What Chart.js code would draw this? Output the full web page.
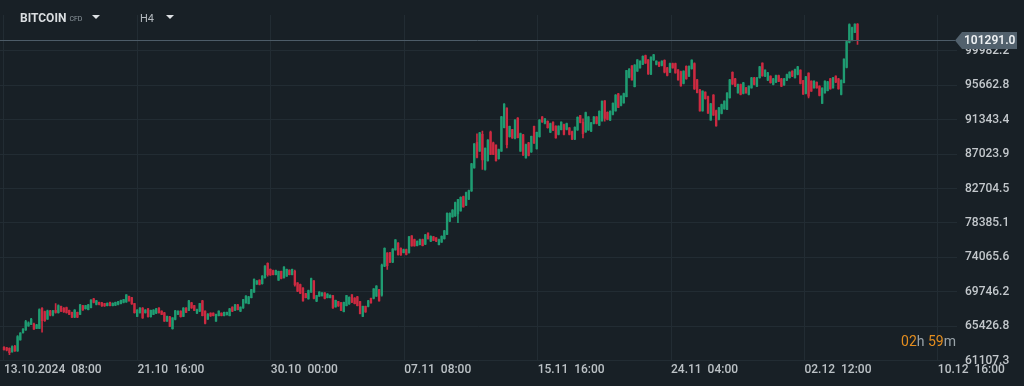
<!DOCTYPE html>
<html lang="en">
<head>
    <meta charset="UTF-8">
    <title>BITCOIN CFD H4</title>
    <script src="https://cdn.jsdelivr.net/npm/chart.js"></script>
    <style>
        body {
            margin: 0;
            background: #182026;
            font-family: Roboto, Arial, sans-serif;
        }
        #wrap {
            position: relative;
            width: 1024px;
            height: 386px;
        }
        .hdr {
            position: absolute;
            top: 11px;
            color: #d9dde0;
            white-space: nowrap;
        }
        #sym { left: 20px; font-size: 12px; font-weight: 700; }
        #sym small { font-size: 7px; font-weight: 400; color: #8e989f; margin-left: 3px; vertical-align: 1px; }
        #tf { left: 140px; font-size: 11px; color: #b4babf; top: 12px; }
        .caret { position: absolute; top: 15px; width: 0; height: 0;
                 border-left: 4px solid transparent; border-right: 4px solid transparent; border-top: 4px solid #dde1e4; }
        #countdown {
            position: absolute;
            right: 68px;
            top: 333px;
            font-size: 14px;
            color: #9aa3a9;
        }
        #countdown b { color: #e38d1f; font-weight: 400; }
    </style>
</head>
<body>
<div id="wrap">
    <canvas id="candles" width="1024" height="386"></canvas>
    <div class="hdr" id="sym">BITCOIN<small>CFD</small></div>
    <div class="caret" style="left:92px"></div>
    <div class="hdr" id="tf">H4</div>
    <div class="caret" style="left:166px"></div>
    <div id="countdown"><b>02</b>h <b>59</b>m</div>
</div>

<script>
    // H4 candles, 13.10.2024 08:00 onwards
    const open = [
        62770, 62690, 62650, 62200, 62880, 62300, 63700, 64600, 64950, 65450, 65650, 65700, 65150, 65150, 67650, 67250, 66300, 67350, 66800, 67400,
        67100, 67900, 67700, 67750, 67400, 67150, 66550, 67150, 66900, 68000, 67600, 67500, 67750, 68850, 68150, 68400, 68350, 68250, 68000, 68400,
        68000, 68050, 68150, 68250, 68400, 68450, 69150, 69000, 68250, 66650, 67100, 67700, 67100, 67600, 66600, 66900, 67050, 67700, 67300, 67100,
        66050, 66600, 65100, 66250, 66900, 67300, 66650, 67700, 67400, 68350, 68000, 67050, 67300, 68600, 67300, 66300, 67050, 67050, 66050, 66750,
        67050, 66750, 66850, 66750, 67800, 67400, 68100, 67300, 67700, 68350, 68250, 69000, 69700, 70700, 71200, 70750, 71500, 73300, 72550, 72400,
        71900, 71200, 72300, 71500, 71700, 72450, 71900, 72300, 70850, 70650, 70200, 69500, 68850, 69700, 71100, 68550, 69200, 69250, 69600, 69000,
        69000, 69250, 67850, 68500, 68350, 67250, 68000, 68200, 69350, 68950, 69100, 68500, 66650, 67900, 67900, 68900, 68900, 69200, 70000, 69300,
        72950, 74600, 74650, 73450, 75000, 75850, 75200, 74660, 75050, 74650, 76750, 76300, 75540, 75660, 76300, 75700, 77100, 76080, 76640, 76500,
        75660, 75970, 76400, 76950, 78600, 79150, 79250, 79500, 79900, 81700, 80600, 81350, 82400, 85300, 88500, 87400, 89500, 85100, 86200, 89800,
        88450, 88150, 86440, 87400, 90350, 92800, 89200, 90100, 89000, 91550, 87400, 89450, 86560, 88440, 87300, 90500, 87700, 89200, 91700, 90870,
        91150, 89770, 91030, 90530, 89480, 90100, 90740, 90120, 90320, 89850, 88900, 90050, 91850, 91000, 89800, 90050, 89900, 90870, 91700, 90650,
        91200, 93700, 92280, 91280, 92000, 92450, 94600, 93130, 93460, 94250, 96650, 98100, 95500, 97450, 97860, 98300, 99400, 98850, 97050, 98850,
        98280, 98560, 98150, 98800, 97860, 97300, 98400, 98400, 97600, 97400, 95890, 98060, 96800, 97740, 98400, 96350, 95100, 92450, 94800, 94250,
        91300, 94450, 92500, 91370, 92120, 92710, 92650, 94100, 97300, 96480, 94720, 95760, 94630, 95350, 94510, 95350, 96610, 95550, 96610, 98450,
        96810, 96300, 96810, 95760, 96050, 96890, 96480, 95700, 96300, 96610, 97440, 96610, 97020, 97560, 96250, 94630, 97200, 96180, 95350, 96050,
        95550, 93400, 94720, 95000, 96480, 95350, 96810, 96480, 94510, 96000, 97900, 101050, 101300, 102300, 103350
    ];
    const high = [
        62850, 62750, 62700, 62950, 63000, 64250, 64600, 65100, 66150, 65950, 66400, 65800, 65650, 67600, 67750, 67300, 67450, 67400, 67400, 68250,
        68100, 67950, 67750, 67800, 67450, 67200, 67500, 67200, 68150, 68050, 68050, 68150, 68760, 68900, 68650, 68450, 68400, 68300, 68350, 68450,
        68350, 68450, 68550, 68700, 68800, 69400, 69200, 69050, 68300, 67500, 67750, 67750, 67500, 67650, 67450, 67500, 67650, 67750, 67350, 67150,
        66700, 66650, 66500, 67400, 67350, 67350, 67750, 67750, 68650, 68400, 68050, 67550, 68300, 68650, 67350, 67000, 67100, 67100, 66950, 67350,
        67100, 67200, 67200, 67650, 67850, 68150, 68150, 67850, 68800, 69250, 69150, 70050, 71350, 71150, 71250, 71780, 73030, 73370, 72610, 72450,
        72450, 72350, 72350, 72900, 72600, 72500, 72600, 72450, 70900, 70700, 70250, 69550, 69950, 71450, 71150, 69300, 69750, 69650, 69650, 69500,
        69350, 69300, 68700, 68550, 68400, 68450, 69300, 69100, 69400, 69000, 69150, 68550, 67950, 67950, 68650, 68950, 70150, 70500, 70050, 73200,
        75250, 74650, 74700, 75150, 76300, 75900, 75250, 75100, 75100, 76710, 76800, 76350, 76130, 76350, 76350, 76950, 77150, 76750, 76700, 76550,
        76350, 76760, 77450, 79650, 79650, 80060, 81000, 81350, 81660, 81750, 82250, 82500, 85850, 88350, 89570, 89770, 89900, 87810, 88860, 89900,
        88520, 88200, 87650, 91780, 93380, 92850, 90550, 90150, 91370, 91600, 89650, 89500, 88280, 88500, 89300, 90550, 89800, 91370, 91750, 91500,
        91200, 90920, 91080, 90580, 90580, 91080, 90790, 90920, 90370, 89900, 90450, 91710, 91900, 91460, 92300, 91750, 91000, 91750, 91750, 92450,
        93700, 93750, 92330, 92460, 93460, 94510, 94650, 94350, 94680, 97550, 97750, 98150, 98280, 98900, 98740, 99350, 99450, 98900, 99250, 99550,
        98740, 98610, 98740, 98850, 97910, 98450, 98450, 98450, 97650, 97450, 97490, 98110, 98110, 98870, 98490, 96400, 95150, 94980, 94850, 94300,
        93400, 94510, 92550, 92890, 93300, 93720, 94750, 96400, 97350, 96530, 95810, 95810, 96030, 95400, 95600, 96660, 96660, 96660, 98040, 98490,
        97610, 97280, 96860, 96530, 96940, 96940, 96530, 96530, 97070, 97360, 97490, 97700, 98040, 97610, 96300, 96780, 97230, 96230, 96230, 96100,
        95600, 95350, 96230, 96150, 96530, 96660, 96860, 96530, 96350, 98990, 101200, 103390, 102960, 103390, 103400
    ];
    const low = [
        62400, 62300, 61850, 62150, 62250, 62250, 63650, 64550, 64900, 65400, 65600, 65000, 65100, 65100, 64650, 66000, 66250, 66700, 66700, 67050,
        67050, 67250, 67150, 67050, 66850, 66500, 66500, 66500, 66850, 67400, 67550, 67450, 67700, 68350, 68100, 68100, 67900, 67900, 67950, 67950,
        67950, 68000, 68100, 68200, 68350, 68400, 68550, 68150, 67050, 66600, 67050, 66400, 67050, 66550, 66550, 66850, 67000, 67050, 66850, 66000,
        66000, 65350, 65050, 66200, 66850, 66550, 66600, 67100, 67350, 67650, 67350, 67000, 67250, 66700, 65700, 66250, 66650, 66700, 66000, 66700,
        66700, 66700, 66800, 66700, 67250, 67350, 67450, 67250, 67650, 68300, 68200, 68950, 69650, 70650, 70600, 70700, 71450, 71690, 71780, 71850,
        71850, 71150, 71350, 71450, 71650, 71850, 71850, 70450, 69750, 69500, 68550, 68950, 68800, 69650, 68850, 68500, 69150, 69200, 68850, 68950,
        68950, 67650, 67800, 67900, 67350, 67200, 67950, 68150, 68370, 68200, 67950, 66950, 66600, 67150, 67850, 68300, 68850, 69150, 68550, 69200,
        72900, 72550, 73400, 73400, 74950, 74320, 74300, 74620, 74380, 74600, 75460, 75450, 75500, 75620, 75500, 75660, 76350, 76030, 76150, 76030,
        75620, 75920, 76350, 76900, 78550, 79100, 79200, 78400, 79850, 80350, 80550, 81300, 82350, 85250, 86550, 87350, 85100, 85000, 86130, 86950,
        86950, 86130, 86400, 87350, 90300, 87800, 89150, 89000, 88940, 89050, 87350, 86850, 86500, 86800, 87250, 88350, 87650, 89150, 91000, 90820,
        90280, 89720, 89970, 89020, 89430, 90050, 89430, 90070, 89430, 88850, 88850, 90000, 90950, 89070, 89750, 90000, 89850, 90820, 90820, 90600,
        91150, 91150, 91320, 91230, 91950, 92400, 92840, 93080, 93410, 94200, 96600, 96300, 95450, 97400, 97810, 98250, 98400, 97020, 97000, 98800,
        98230, 98010, 98100, 97230, 96840, 97250, 97810, 97180, 96300, 95550, 95840, 96430, 96750, 97690, 95140, 94720, 92410, 92400, 93920, 92120,
        91280, 91870, 90530, 91320, 92070, 92660, 92600, 94050, 95760, 95500, 94670, 94460, 94580, 94670, 94460, 95300, 95710, 95500, 96560, 96810,
        96760, 96250, 95930, 95710, 96000, 96110, 95500, 95650, 96250, 96560, 96760, 96560, 96970, 95840, 94510, 94580, 94090, 94880, 95300, 95300,
        94330, 93380, 94670, 94950, 95170, 95300, 96000, 95170, 94460, 95950, 97860, 101000, 101250, 102260, 100790
    ];
    const close = [
        62480, 62390, 62100, 62850, 62300, 64100, 64550, 65050, 66000, 65850, 66300, 65050, 65600, 67500, 66100, 66100, 67350, 66800, 67350, 67150,
        68000, 67300, 67200, 67100, 66900, 66550, 67450, 66550, 68100, 67450, 68000, 68100, 68700, 68400, 68600, 68150, 67950, 67950, 68300, 68000,
        68300, 68400, 68500, 68650, 68750, 69350, 68600, 68200, 67100, 67450, 67700, 66450, 67450, 66600, 67400, 67450, 67600, 67100, 66900, 66050,
        66650, 65400, 66450, 67350, 67300, 66600, 67700, 67150, 68600, 67700, 67400, 67500, 68250, 66750, 65750, 66950, 66700, 66750, 66900, 67300,
        66750, 67150, 67150, 67600, 67300, 68100, 67500, 67800, 68750, 69200, 69100, 70000, 71300, 71100, 70650, 71700, 72950, 71900, 71850, 71900,
        72400, 72300, 71400, 72850, 72550, 71900, 72550, 70600, 69800, 69550, 68600, 69000, 69900, 71400, 68900, 69250, 69700, 69600, 68900, 69450,
        69300, 67700, 68650, 67950, 67400, 68400, 69250, 69050, 68420, 68250, 68000, 67000, 67900, 67200, 68600, 68350, 70100, 70450, 68600, 73100,
        75200, 73000, 73450, 75100, 76250, 74400, 74350, 75050, 74420, 76650, 75500, 75500, 76080, 76300, 75540, 76900, 76400, 76700, 76200, 76080,
        76300, 76710, 77400, 79600, 79600, 80000, 80950, 81300, 81600, 80400, 82200, 82450, 85800, 88300, 86600, 89700, 86300, 87750, 88800, 87000,
        87000, 86200, 87600, 91700, 93300, 88200, 90500, 89070, 91300, 89100, 89600, 86900, 88230, 86850, 89250, 88400, 89750, 91300, 91050, 91460,
        90330, 90870, 90020, 89070, 90530, 91030, 89480, 90870, 89480, 88900, 90400, 91650, 91000, 89600, 92250, 91700, 90950, 91700, 90870, 92400,
        93650, 91500, 91370, 92410, 93400, 94450, 92900, 94300, 94630, 97500, 97700, 96350, 98200, 98850, 98690, 99300, 98450, 97100, 99200, 99500,
        98690, 98060, 98690, 97300, 96890, 98400, 97860, 97230, 96350, 95600, 97440, 96480, 98060, 98820, 95200, 94750, 92450, 94930, 93970, 92150,
        93350, 91900, 90550, 92840, 93250, 93670, 94700, 96350, 95800, 95550, 95760, 94510, 95980, 94720, 95550, 96610, 95760, 96610, 97990, 96850,
        97560, 97230, 95980, 96480, 96890, 96160, 95550, 96480, 97020, 97310, 96810, 97650, 97990, 95890, 94550, 96730, 94300, 94930, 96180, 95350,
        94380, 95300, 96180, 96100, 95220, 96610, 96050, 95220, 96300, 98950, 101150, 103300, 102900, 103350, 101291
    ];

    const timeLabels = ['13.10.2024  08:00', '21.10  16:00', '30.10  00:00', '07.11  08:00',
                        '15.11  16:00', '24.11  04:00', '02.12  12:00', '10.12  16:00'];
    const candlesPerLabel = 49.08;
    const priceTicks = [61107.3, 65426.8, 69746.2, 74065.6, 78385.1, 82704.5, 87023.9, 91343.4, 95662.8, 99982.2];
    const lastPrice = close[close.length - 1];

    const UP = '#1f9c72';
    const DOWN = '#cd2a41';
    const GRID = '#222c33';

    function candleColor(c) {
        const i = c.dataIndex;
        return close[i] >= open[i] ? UP : DOWN;
    }

    // horizontal last-price line with the tag on the axis
    const priceTag = {
        id: 'priceTag',
        afterDraw(chart) {
            const g = chart.ctx;
            const area = chart.chartArea;
            const y = Math.round(chart.scales.y.getPixelForValue(lastPrice)) + 0.5;
            g.save();
            g.strokeStyle = '#4d5c68';
            g.lineWidth = 1;
            g.beginPath();
            g.moveTo(0, y);
            g.lineTo(area.right - 2, y);
            g.stroke();

            const x0 = area.right - 2;
            g.fillStyle = '#52616d';
            g.beginPath();
            g.moveTo(x0, y);
            g.lineTo(x0 + 7, y - 8.5);
            g.lineTo(x0 + 62, y - 8.5);
            g.lineTo(x0 + 62, y + 8.5);
            g.lineTo(x0 + 7, y + 8.5);
            g.closePath();
            g.fill();

            g.fillStyle = '#eef1f3';
            g.font = '600 12px Roboto';
            g.textBaseline = 'middle';
            g.textAlign = 'left';
            g.fillText(lastPrice.toFixed(1), x0 + 9, y + 0.5);
            g.restore();
        }
    };

    const ctx = document.getElementById('candles').getContext('2d');

    const chart = new Chart(ctx, {
        type: 'bar',
        data: {
            datasets: [{
                label: 'wick',
                data: high.map((h, i) => ({ x: i, y: [low[i], h] })),
                backgroundColor: candleColor,
                barThickness: 1,
                order: 2
            }, {
                label: 'body',
                data: open.map((o, i) => ({ x: i, y: [o, close[i]] })),
                backgroundColor: candleColor,
                barThickness: 1.7,
                minBarLength: 1,
                order: 1
            }]
        },
        plugins: [priceTag],
        options: {
            responsive: false,
            animation: false,
            layout: { padding: { top: 15, left: 0, right: 0, bottom: 0 } },
            plugins: {
                legend: { display: false },
                tooltip: { enabled: false }
            },
            datasets: { bar: { grouped: false } },
            scales: {
                x: {
                    type: 'linear',
                    offset: false,
                    min: -1.47,
                    max: 350.6,
                    grid: { color: GRID, drawTicks: false, offset: false },
                    border: { display: false },
                    afterBuildTicks: scale => {
                        scale.ticks = timeLabels.map((t, k) => ({ value: k * candlesPerLabel }));
                    },
                    afterFit: scale => {
                        scale.height = 25.5;
                        scale.paddingLeft = 0;
                        scale.paddingRight = 0;
                    },
                    ticks: {
                        autoSkip: false,
                        maxRotation: 0,
                        align: 'start',
                        padding: 2,
                        color: '#bcc2c6',
                        font: { family: 'Roboto', size: 12, weight: '500' },
                        callback: (v, i) => timeLabels[i]
                    }
                },
                y: {
                    position: 'right',
                    min: 61107.3,
                    max: 104491,
                    grid: { color: GRID, drawTicks: false },
                    border: { display: false },
                    afterBuildTicks: scale => {
                        scale.ticks = priceTicks.map(v => ({ value: v }));
                    },
                    afterFit: scale => {
                        scale.width = 67;
                        scale.paddingTop = 0;
                        scale.paddingBottom = 0;
                    },
                    ticks: {
                        padding: 8,
                        color: '#c3c8cc',
                        font: { family: 'Roboto', size: 12, weight: '500' },
                        callback: v => v.toFixed(1)
                    }
                }
            }
        }
    });
</script>
</body>
</html>
